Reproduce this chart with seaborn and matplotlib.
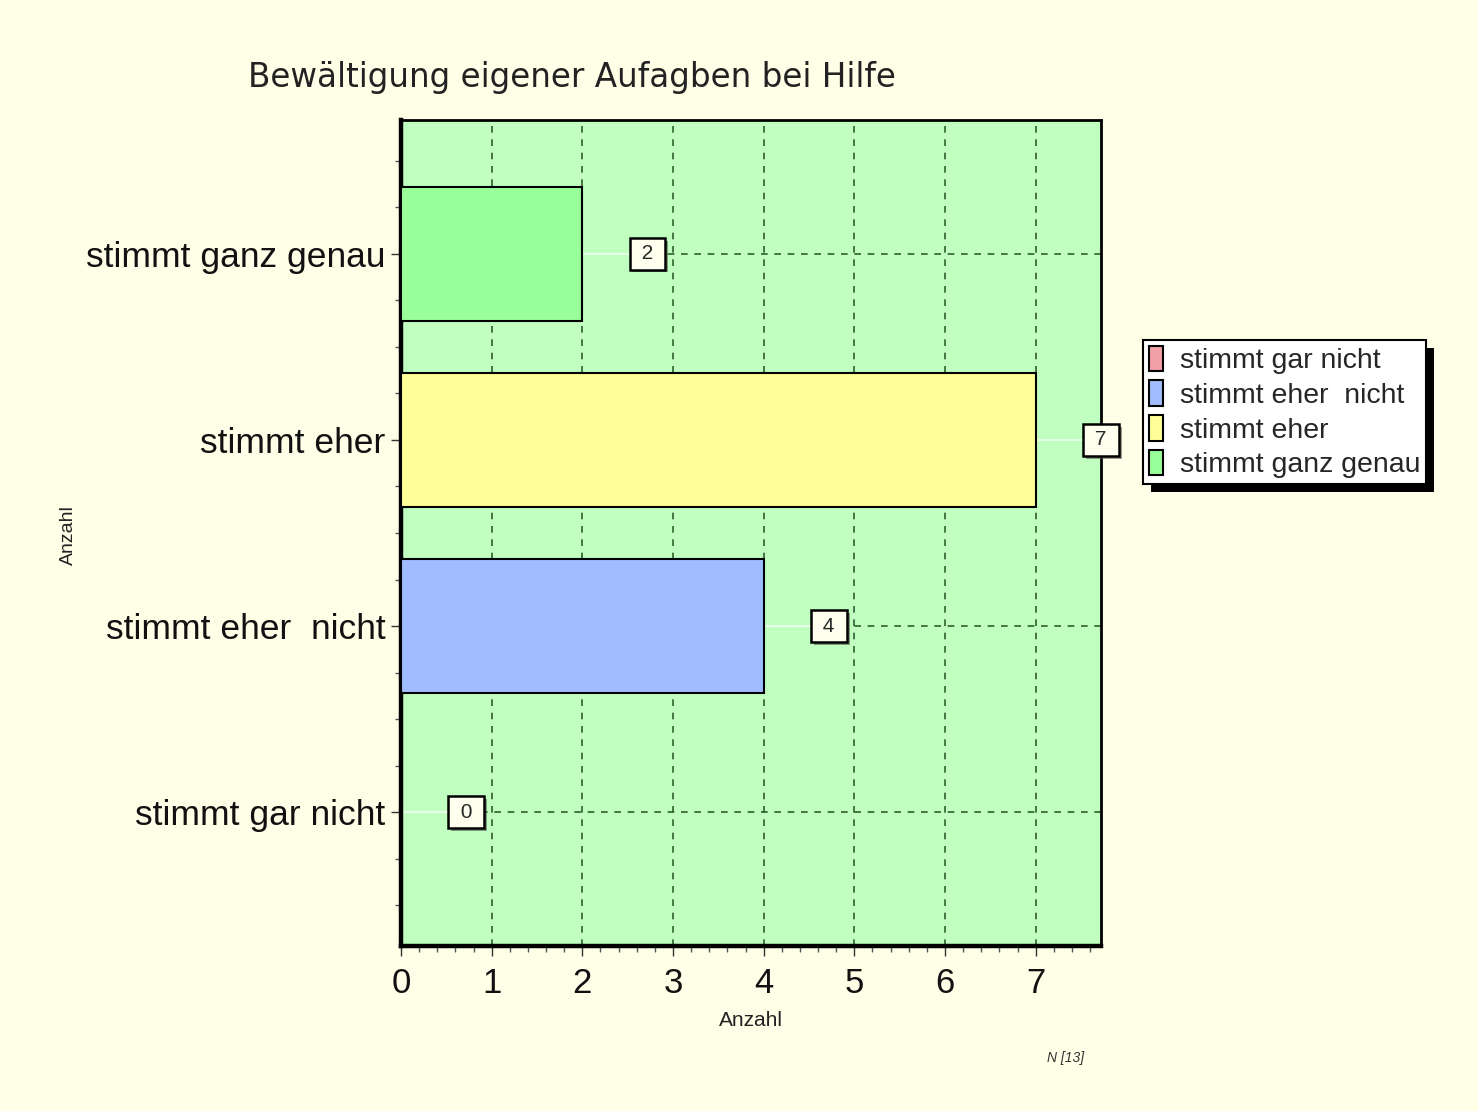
import numpy as np
import pandas as pd
import seaborn as sns
import matplotlib.pyplot as plt
import matplotlib.patheffects as pe
from matplotlib.patches import Patch, Rectangle
from matplotlib.ticker import MultipleLocator

# =====================================================
# Data
# =====================================================

categories = [
    "stimmt ganz genau",
    "stimmt eher",
    "stimmt eher  nicht",
    "stimmt gar nicht"
]
counts = [2, 7, 4, 0]

legend_order = [
    "stimmt gar nicht",
    "stimmt eher  nicht",
    "stimmt eher",
    "stimmt ganz genau"
]

colors = {
    "stimmt gar nicht": "#F2A0A8",
    "stimmt eher  nicht": "#A0BEFF",
    "stimmt eher": "#FFFF99",
    "stimmt ganz genau": "#99FF99"
}

title = "Bewältigung eigener Aufagben bei Hilfe"
n_text = "N [13]"

df = pd.DataFrame({"kategorie": categories, "anzahl": counts})

# =====================================================
# Figure
# =====================================================

sns.set_style("white")

fig = plt.figure(figsize=(14.78, 11.11), dpi=100)
fig.patch.set_facecolor("#FFFFE8")

ax = fig.add_axes([0.2713, 0.1485, 0.4736, 0.7435])
ax.set_facecolor("#C0FFC0")

sns.barplot(
    data=df,
    x="anzahl",
    y="kategorie",
    hue="kategorie",
    palette=colors,
    saturation=1,
    order=categories,
    orient="h",
    width=0.72,
    edgecolor="black",
    linewidth=1.5,
    legend=False,
    ax=ax,
    zorder=3
)

ax.set_xlim(0, 7.72)
ax.set_ylim(3.72, -0.72)

# grid
for xv in range(1, 8):
    ax.axvline(xv, color="#2F5F2F", ls=(0, (4, 4)), lw=1.2, zorder=1)
for yv in range(len(categories)):
    ax.axhline(yv, color="#2F5F2F", ls=(0, (4, 4)), lw=1.2, zorder=1)

# value labels
for i, v in enumerate(counts):
    ax.plot([0, v + 0.72], [i, i], color="#E8FFE8", lw=1.5, zorder=2,
            clip_on=False)
    t = ax.text(
        v + 0.72, i, f" {v} ",
        ha="center", va="center",
        fontsize=15, family="Liberation Sans",
        zorder=6, clip_on=False,
        bbox=dict(boxstyle="square,pad=0.3", fc="#FFFFF0",
                  ec="black", lw=1.8)
    )
    t.get_bbox_patch().set_path_effects([
        pe.withSimplePatchShadow(offset=(2, -2), shadow_rgbFace="#555555",
                                 alpha=0.6)
    ])

# ticks
ax.xaxis.set_major_locator(MultipleLocator(1))
ax.xaxis.set_minor_locator(MultipleLocator(0.2))
ax.yaxis.set_minor_locator(MultipleLocator(0.25))
ax.tick_params(axis="both", which="major", direction="out", length=7,
               width=1, color="#333333", bottom=True, left=True)
ax.tick_params(axis="both", which="minor", direction="out", length=4,
               width=1, color="#555555", bottom=True, left=True)
ax.tick_params(axis="x", labelsize=25, pad=8)
ax.tick_params(axis="y", labelsize=25.5, pad=4)
for lbl in ax.get_xticklabels() + ax.get_yticklabels():
    lbl.set_family("Liberation Sans")
    lbl.set_color("#111111")

for side in ["left", "bottom"]:
    ax.spines[side].set_linewidth(3.2)
for side in ["top", "right"]:
    ax.spines[side].set_linewidth(2)
for s in ax.spines.values():
    s.set_color("black")
    s.set_visible(True)

ax.set_xlabel("")
ax.set_ylabel("")

# =====================================================
# Texts
# =====================================================

fig.text(0.168, 0.930, title, fontsize=23.5, family="DejaVu Sans",
         ha="left", va="center", color="#222222")

fig.text(751 / 1478, 1 - 1020 / 1111, "Anzahl", fontsize=15,
         family="Liberation Sans", ha="center", va="center",
         color="#222222")

fig.text(68 / 1478, 1 - 535 / 1111, "Anzahl", fontsize=14,
         family="Liberation Sans", rotation=90, ha="center",
         va="center", color="#222222")

fig.text(1066 / 1478, 1 - 1058 / 1111, n_text, fontsize=10,
         family="Liberation Sans", style="italic", ha="center",
         va="center", color="#333333")

# =====================================================
# Legend
# =====================================================

handles = [
    Patch(facecolor=colors[c], edgecolor="black", lw=1.5)
    for c in legend_order
]

leg = fig.legend(
    handles,
    legend_order,
    loc="upper left",
    bbox_to_anchor=(1143 / 1478, 1 - 340 / 1111),
    frameon=True,
    fancybox=False,
    edgecolor="black",
    facecolor="white",
    framealpha=1,
    handlelength=0.5,
    handleheight=1.0,
    handletextpad=0.6,
    labelspacing=0.22,
    borderpad=0.2,
    borderaxespad=0,
    prop={"family": "Liberation Sans", "size": 20.5}
)
leg.get_frame().set_linewidth(1.5)
leg.set_zorder(10)

fig.canvas.draw()
bb = leg.get_window_extent().transformed(fig.transFigure.inverted())
shadow = Rectangle(
    (bb.x0 + 8 / 1478, bb.y0 - 8 / 1111), bb.width, bb.height,
    transform=fig.transFigure, facecolor="black", edgecolor="none",
    zorder=9
)
fig.add_artist(shadow)

plt.savefig("out.png", dpi=100, facecolor=fig.get_facecolor())
plt.close()
